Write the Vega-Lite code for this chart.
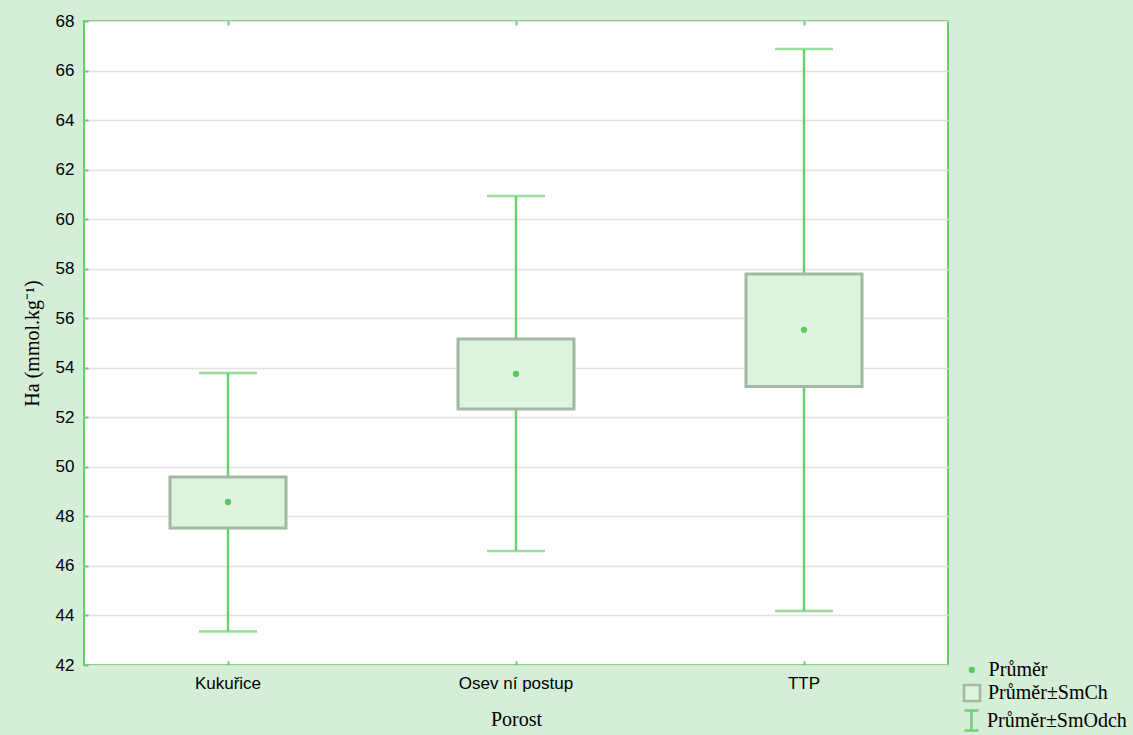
{
  "$schema": "https://vega.github.io/schema/vega-lite/v6.json",
  "width": 864,
  "height": 644,
  "autosize": {"type": "none"},
  "padding": {"left": 84, "top": 21, "right": 185, "bottom": 70},
  "background": "#d5eed7",
  "config": {
    "view": {"stroke": "#66cc66", "strokeWidth": 2, "fill": "#ffffff"},
    "axis": {"domain": false, "grid": false, "tickColor": "#66cc66", "tickWidth": 2, "labelColor": "#000000", "titleColor": "#000000", "titleFontWeight": "normal"},
    "legend": {"labelFont": "Liberation Serif", "labelFontSize": 20, "labelColor": "#000000", "padding": 0, "title": null, "orient": "none"}
  },
  "data": {"values": [
    {"porost": "Kukuřice", "mean": 48.58, "seLo": 47.53, "seHi": 49.59, "sdLo": 43.35, "sdHi": 53.79},
    {"porost": "Osev ní postup", "mean": 53.75, "seLo": 52.34, "seHi": 55.16, "sdLo": 46.6, "sdHi": 60.93},
    {"porost": "TTP", "mean": 55.53, "seLo": 53.24, "seHi": 57.79, "sdLo": 44.18, "sdHi": 66.87}
  ]},
  "encoding": {
    "x": {"field": "porost", "type": "nominal", "sort": null, "scale": {"paddingInner": 0, "paddingOuter": 0}, "axis": null}
  },
  "layer": [
    {
      "mark": {"type": "rule", "strokeWidth": 2.5},
      "encoding": {
        "x": {"field": "porost", "type": "nominal", "sort": null,
          "axis": {"orient": "bottom", "title": "Porost", "labelAngle": 0, "labelFont": "Liberation Sans", "labelFontSize": 17, "labelPadding": 14, "tickSize": -4, "titleFont": "Liberation Serif", "titleFontSize": 20, "titlePadding": 18}},
        "y": {"field": "sdLo", "type": "quantitative", "scale": {"domain": [42, 68], "nice": false, "zero": false},
          "axis": {"orient": "left", "title": "Ha (mmol.kg⁻¹)", "values": [42,44,46,48,50,52,54,56,58,60,62,64,66,68], "grid": true, "gridColor": "#e2e2e2", "gridWidth": 1.5, "labelFont": "Liberation Sans", "labelFontSize": 17, "labelPadding": 14, "tickSize": -4, "titleFont": "Liberation Serif", "titleFontSize": 20, "titlePadding": 13}},
        "y2": {"field": "sdHi"},
        "stroke": {
          "datum": "Průměr±SmOdch",
          "scale": {"domain": ["Průměr±SmOdch"], "range": ["#6ccf70"]},
          "legend": {"legendX": 876, "legendY": 688, "symbolType": "M-0.7,-1H0.7M0,-1V1M-0.7,1H0.7", "symbolSize": 400, "symbolStrokeWidth": 2.5, "symbolFillColor": "transparent", "labelOffset": 4}
        }
      }
    },
    {
      "mark": {"type": "tick", "color": "#6ccf70", "thickness": 2.5, "size": 58, "orient": "horizontal"},
      "encoding": {
        "x": {"field": "porost", "type": "nominal", "sort": null, "axis": {"orient": "top", "title": null, "labels": false, "tickSize": -4}},
        "y": {"field": "sdHi", "type": "quantitative"}
      }
    },
    {
      "mark": {"type": "tick", "color": "#6ccf70", "thickness": 2.5, "size": 58, "orient": "horizontal"},
      "encoding": {
        "y": {"field": "sdLo", "type": "quantitative"}
      }
    },
    {
      "mark": {"type": "bar", "stroke": "#a2b9a3", "strokeWidth": 3, "width": 116},
      "encoding": {
        "y": {"field": "seLo", "type": "quantitative"},
        "y2": {"field": "seHi"},
        "fill": {
          "datum": "Průměr±SmCh",
          "scale": {"domain": ["Průměr±SmCh"], "range": ["#e0f3e1"]},
          "legend": {"legendX": 878, "legendY": 662, "symbolType": "square", "symbolSize": 256, "symbolStrokeColor": "#a2b9a3", "symbolStrokeWidth": 2.5, "labelOffset": 6}
        }
      }
    },
    {
      "mark": {"type": "point", "filled": true, "color": "#5ec860", "size": 40, "opacity": 1},
      "encoding": {
        "y": {"field": "mean", "type": "quantitative"},
        "shape": {
          "datum": "Průměr",
          "scale": {"domain": ["Průměr"], "range": ["circle"]},
          "legend": {"legendX": 877.8, "legendY": 639, "symbolSize": 40, "symbolFillColor": "#5ec860", "symbolStrokeColor": "#5ec860", "symbolOpacity": 1, "labelOffset": 6.8}
        }
      }
    }
  ]
}
